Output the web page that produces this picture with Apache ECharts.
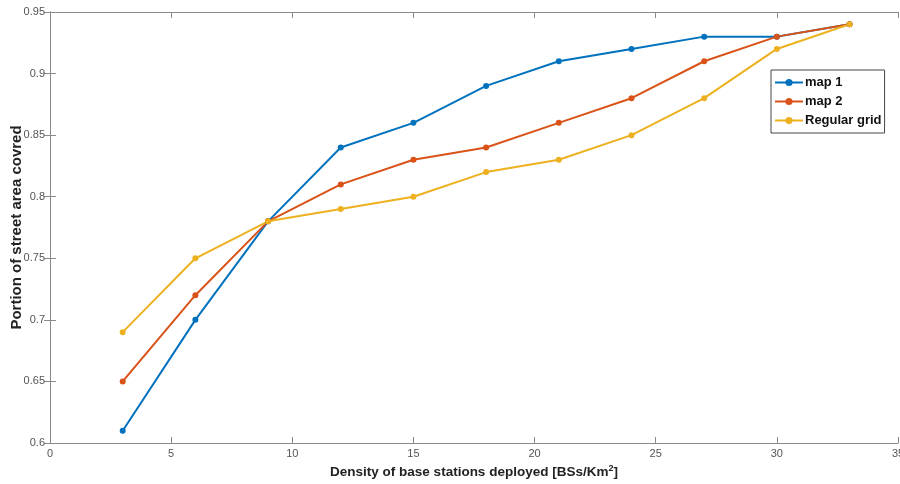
<!DOCTYPE html>
<html><head><meta charset="utf-8">
<script src="https://cdn.jsdelivr.net/npm/echarts@6/dist/echarts.min.js"></script>
<style>html,body{margin:0;padding:0;background:#fff}#c{width:900px;height:484px}</style>
</head><body><div id="c"></div>
<script>
const density = [3, 6, 9, 12, 15, 18, 21, 24, 27, 30, 33];
const map1 = [0.61, 0.70, 0.78, 0.84, 0.86, 0.89, 0.91, 0.92, 0.93, 0.93, 0.94];
const map2 = [0.65, 0.72, 0.78, 0.81, 0.83, 0.84, 0.86, 0.88, 0.91, 0.93, 0.94];
const regularGrid = [0.69, 0.75, 0.78, 0.79, 0.80, 0.82, 0.83, 0.85, 0.88, 0.92, 0.94];
const seriesNames = ['map 1', 'map 2', 'Regular grid'];
const colors = ['#0072BD', '#D95319', '#EDB120'];

const pairs = arr => density.map((x, i) => [x, arr[i]]);
const axisLineStyle = {color: '#8a8a8a', width: 1};
const fmt = v => String(+v.toFixed(2));

const chart = echarts.init(document.getElementById('c'));
chart.setOption({
  animation: false,
  grid: {left: 50, right: 2, top: 12, bottom: 41, containLabel: false, outerBoundsMode: 'none'},
  legend: {
    data: seriesNames, orient: 'vertical', left: 771, top: 70,
    itemWidth: 28, itemHeight: 9, itemGap: 6,
    borderColor: '#444', borderWidth: 1, backgroundColor: '#fff',
    padding: [6, 3, 6, 3],
    textStyle: {fontWeight: 'bold', fontSize: 13, color: '#111', fontFamily: 'Liberation Sans, Arial', padding: [0, 0, 0, -3]}
  },
  xAxis: [{
    type: 'value', min: 0, max: 35, interval: 5,
    name: 'Density of base stations deployed [BSs/Km{sup|2}]',
    nameLocation: 'middle', nameGap: 21, nameMoveOverlap: false,
    nameTextStyle: {fontWeight: 'bold', fontSize: 13.5, color: '#222', fontFamily: 'Liberation Sans, Arial',
      rich: {sup: {fontSize: 9, fontWeight: 'bold', verticalAlign: 'top', padding: [0,0,8,0], color: '#222'}}},
    axisLine: {lineStyle: axisLineStyle},
    axisTick: {inside: true, length: 6, lineStyle: axisLineStyle},
    axisLabel: {color: '#555', fontSize: 11, margin: 5, fontFamily: 'Liberation Sans, Arial'},
    splitLine: {show: false}
  }, {
    type: 'value', min: 0, max: 35, interval: 5, position: 'top',
    axisLine: {lineStyle: axisLineStyle},
    axisTick: {inside: true, length: 6, lineStyle: axisLineStyle},
    axisLabel: {show: false}, splitLine: {show: false}
  }],
  yAxis: [{
    type: 'value', min: 0.6, max: 0.95, interval: 0.05,
    name: 'Portion of street area covred',
    nameLocation: 'middle', nameGap: 26, nameMoveOverlap: false,
    nameTextStyle: {fontWeight: 'bold', fontSize: 15, color: '#222', fontFamily: 'Liberation Sans, Arial'},
    axisLine: {show: true, lineStyle: axisLineStyle},
    axisTick: {show: true, inside: true, length: 6, lineStyle: axisLineStyle},
    axisLabel: {color: '#555', fontSize: 11, margin: 5, formatter: fmt, fontFamily: 'Liberation Sans, Arial'},
    splitLine: {show: false}
  }, {
    type: 'value', min: 0.6, max: 0.95, interval: 0.05, position: 'right',
    axisLine: {show: true, lineStyle: axisLineStyle},
    axisTick: {show: true, inside: true, length: 6, lineStyle: axisLineStyle},
    axisLabel: {show: false}, splitLine: {show: false}
  }],
  series: [map1, map2, regularGrid].map((arr, i) => ({
    name: seriesNames[i], type: 'line', data: pairs(arr),
    color: colors[i], symbol: 'circle', symbolSize: 6,
    lineStyle: {width: 2, color: colors[i]},
    itemStyle: {color: colors[i]}
  }))
});
</script></body></html>
